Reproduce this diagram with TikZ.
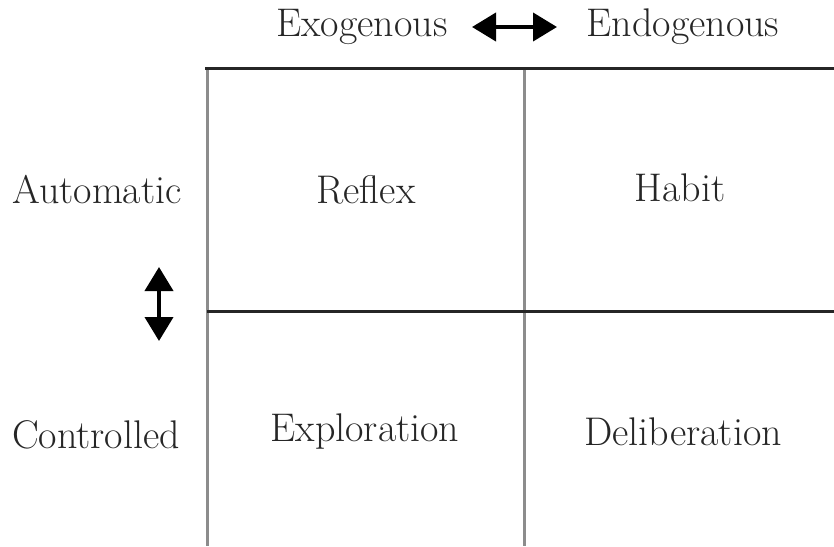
\documentclass[tikz,border=0pt]{standalone}
\usetikzlibrary{arrows.meta}
\tikzset{
  label text/.style={font=\fontsize{20}{24}\selectfont, text=black!85},
  grid line/.style={line width=1.5pt, black!85},
  side line/.style={line width=1.5pt, black!45},
  fat arrow/.style={line width=2pt, {Triangle[length=12pt,width=14pt]}-{Triangle[length=12pt,width=14pt]}}
}
\begin{document}
\begin{tikzpicture}[x=0.5pt,y=-0.5pt]
\useasboundingbox (0,0) rectangle (834,546);

% table lines
\draw [side line] (207,68) -- (207,546);
\draw [side line] (524,68) -- (524,546);
\draw [grid line] (205,68) -- (834,68);
\draw [grid line] (207,311) -- (834,311);

% axis labels
\node [label text] (exo) at (362,27) {Exogenous};
\node [label text] (endo) at (683,27) {Endogenous};
\node [label text] (auto) at (97,190) {Automatic};
\node [label text] (ctrl) at (96,435) {Controlled};

\coordinate (exoend) at (472,27);
\coordinate (endoend) at (557,27);
\coordinate (autoend) at (159,267);
\coordinate (ctrlend) at (159,341);
\draw [fat arrow] (exoend) -- (endoend);
\draw [fat arrow] (autoend) -- (ctrlend);

% cells
\node [label text] (reflex) at (366,190) {Reflex};
\node [label text] (habit) at (680,188) {Habit};
\node [label text] (explo) at (365,432) {Exploration};
\node [label text] (delib) at (683,432) {Deliberation};

\end{tikzpicture}
\end{document}
